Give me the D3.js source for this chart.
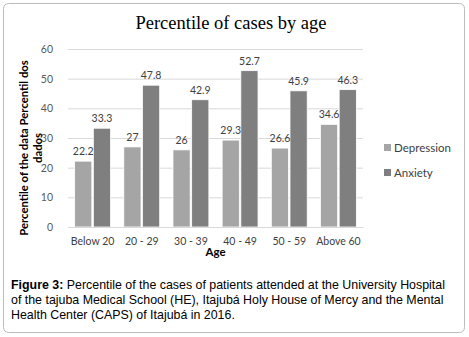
<!DOCTYPE html>
<html>
<head>
<meta charset="utf-8">
<script src="https://cdn.jsdelivr.net/npm/d3@7"></script>
<style>
body { margin: 0; background: #fff; }
</style>
</head>
<body>
<div id="wrapper"></div>
<script>
const ageGroups = ["Below 20", "20 - 29", "30 - 39", "40 - 49", "50 - 59", "Above 60"];
const seriesNames = ["Depression", "Anxiety"];
const depression = [22.2, 27, 26, 29.3, 26.6, 34.6];
const anxiety = [33.3, 47.8, 42.9, 52.7, 45.9, 46.3];
const yTicks = [0, 10, 20, 30, 40, 50, 60];
const colors = ["#a5a5a5", "#7f7f7f"];

const chartFont = "Lato, 'Open Sans', sans-serif";

let dimensions = {
  width: 469,
  height: 337,
  margin: { top: 49, right: 106, bottom: 110, left: 68 },
}
dimensions.boundedWidth = dimensions.width - dimensions.margin.left - dimensions.margin.right;
dimensions.boundedHeight = dimensions.height - dimensions.margin.top - dimensions.margin.bottom;

const svg = d3.select("#wrapper").append("svg")
  .attr("width", dimensions.width)
  .attr("height", dimensions.height);

// outer frame
svg.append("rect")
  .attr("x", 3.5).attr("y", 3.5)
  .attr("width", 461).attr("height", 329)
  .attr("rx", 5)
  .attr("fill", "#fff")
  .attr("stroke", "#bdbdbd")
  .attr("stroke-width", 1);

svg.append("text")
  .attr("x", 231).attr("y", 29)
  .attr("text-anchor", "middle")
  .style("font-family", "'Liberation Serif', serif")
  .style("font-size", "18.5px")
  .attr("fill", "#000")
  .text("Percentile of cases by age");

const bounds = svg.append("g")
  .attr("transform", `translate(${dimensions.margin.left},${dimensions.margin.top})`);

const yScale = d3.scaleLinear()
  .domain([0, 60])
  .range([dimensions.boundedHeight, 0]);

const xScale = d3.scaleBand()
  .domain(ageGroups)
  .range([0, dimensions.boundedWidth])
  .paddingInner(0.27)
  .paddingOuter(0.135);

const x1 = d3.scaleBand()
  .domain(seriesNames)
  .range([0, xScale.bandwidth()])
  .paddingInner(0.08);

// gridlines
const yAxisGenerator = d3.axisLeft(yScale)
  .tickValues(yTicks)
  .tickSize(-dimensions.boundedWidth)
  .tickPadding(15);
const yAxis = bounds.append("g").call(yAxisGenerator);
yAxis.select(".domain").remove();
yAxis.selectAll(".tick line").attr("stroke", "#d9d9d9");
yAxis.selectAll(".tick text")
  .style("font-family", chartFont)
  .style("font-size", "10.5px")
  .attr("fill", "#595959");

const rows = ageGroups.map((g, i) => ({ group: g, values: [depression[i], anxiety[i]] }));

const groups = bounds.selectAll(".grp")
  .data(rows)
  .join("g")
  .attr("transform", d => `translate(${xScale(d.group)},0)`);

groups.selectAll("rect")
  .data(d => d.values.map((v, j) => ({ name: seriesNames[j], value: v, color: colors[j] })))
  .join("rect")
  .attr("x", d => x1(d.name))
  .attr("width", x1.bandwidth())
  .attr("y", d => yScale(d.value))
  .attr("height", d => dimensions.boundedHeight - yScale(d.value))
  .attr("fill", d => d.color)
  .attr("stroke", "#fff")
  .attr("stroke-width", 0.8);

groups.selectAll(".lbl")
  .data(d => d.values.map((v, j) => ({ name: seriesNames[j], value: v })))
  .join("text")
  .attr("x", d => x1(d.name) + x1.bandwidth() / 2)
  .attr("y", d => yScale(d.value) - 6)
  .attr("text-anchor", "middle")
  .style("font-family", chartFont)
  .style("font-size", "10.5px")
  .attr("fill", "#404040")
  .text(d => d.value);

// x axis
const xAxisGenerator = d3.axisBottom(xScale).tickSize(0).tickPadding(11);
const xAxis = bounds.append("g")
  .attr("transform", `translate(0,${dimensions.boundedHeight})`)
  .call(xAxisGenerator);
xAxis.select(".domain").attr("stroke", "#d9d9d9");
xAxis.selectAll(".tick text")
  .style("font-family", chartFont)
  .style("font-size", "10.5px")
  .attr("fill", "#404040");

bounds.append("text")
  .attr("x", dimensions.boundedWidth / 2)
  .attr("y", dimensions.boundedHeight + 29)
  .attr("text-anchor", "middle")
  .style("font-family", chartFont)
  .style("font-size", "11.5px")
  .style("font-weight", "bold")
  .attr("fill", "#000")
  .text("Age");

// y title
const yTitle = svg.append("text")
  .attr("transform", `translate(24,148) rotate(-90)`)
  .attr("text-anchor", "middle")
  .style("font-family", chartFont)
  .style("font-size", "11.3px")
  .style("font-weight", "bold")
  .attr("fill", "#000");
yTitle.append("tspan").attr("x", 0).attr("dy", 4).text("Percentile of the data Percentil dos");
yTitle.append("tspan").attr("x", 0).attr("dy", 14).text("dados");

// legend
const legend = svg.append("g").attr("transform", "translate(384,144)");
seriesNames.forEach((name, i) => {
  const item = legend.append("g").attr("transform", `translate(0,${i * 25})`);
  item.append("rect").attr("width", 7).attr("height", 7).attr("fill", colors[i]);
  item.append("text")
    .attr("x", 10).attr("y", 7.5)
    .style("font-family", chartFont)
    .style("font-size", "11.5px")
    .attr("fill", "#404040")
    .text(name);
});

// caption
const caption = svg.append("text")
  .style("font-family", "'Liberation Sans', Arial, sans-serif")
  .style("font-size", "12.4px")
  .attr("fill", "#000");
const capLines = [
  [["Figure 3:", true], [" Percentile of the cases of patients attended at the University Hospital", false]],
  [["of the tajuba Medical School (HE), Itajubá Holy House of Mercy and the Mental", false]],
  [["Health Center (CAPS) of Itajubá in 2016.", false]],
];
capLines.forEach((line, i) => {
  line.forEach(([t, bold], k) => {
    const ts = caption.append("tspan").text(t);
    if (k === 0) ts.attr("x", 11).attr("y", 289 + i * 15);
    if (bold) ts.style("font-weight", "bold");
  });
});
</script>
</body>
</html>
